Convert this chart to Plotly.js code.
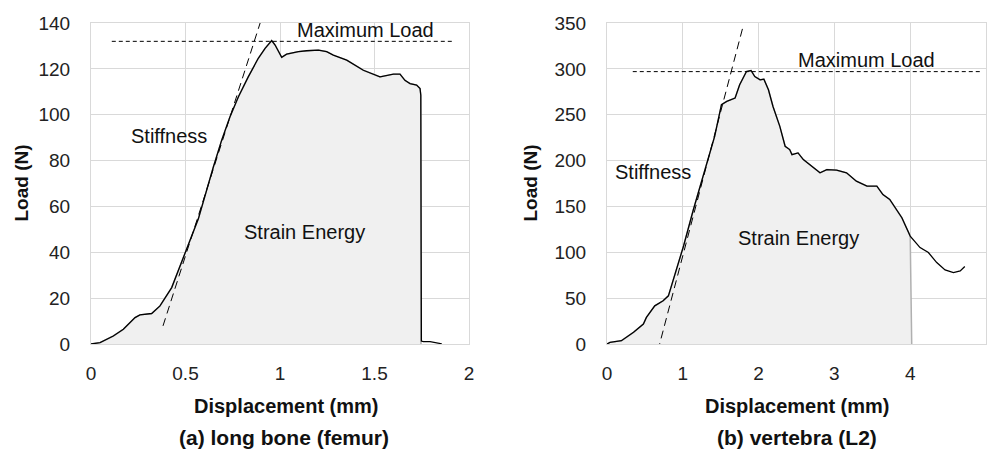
<!DOCTYPE html>
<html>
<head>
<meta charset="utf-8">
<script src="https://cdn.plot.ly/plotly-3.0.1.min.js"></script>
<style>html,body{margin:0;padding:0;background:#fff}#chart{width:991px;height:453px}</style>
</head>
<body>
<div id="chart"></div>
<script>
// (a) long bone (femur)
const femurX = [0, 0.048, 0.118, 0.171, 0.233, 0.259, 0.321, 0.365, 0.427, 0.488, 0.568, 0.647, 0.691, 0.735, 0.780, 0.832, 0.885, 0.921, 0.956, 0.974, 1.009, 1.035, 1.097, 1.141, 1.203, 1.247, 1.282, 1.353, 1.441, 1.529, 1.600, 1.635, 1.661, 1.688, 1.723, 1.741, 1.745, 1.748, 1.759, 1.794, 1.820, 1.856];
const femurY = [0, 0.6, 3.5, 6.4, 11.5, 12.7, 13.3, 16.6, 24.6, 37.8, 54.6, 77.1, 88.8, 99.0, 107.8, 116.5, 124.6, 128.9, 132.3, 130.4, 125.0, 126.4, 127.5, 127.9, 128.2, 127.5, 126.0, 123.8, 119.4, 116.5, 117.7, 117.7, 115.0, 113.6, 112.9, 111.4, 108.5, 1.3, 1.0, 1.0, 0.6, 0.1];
const femurFillEnd = 1.746;
const femurMaxLoad = 132;
const femurMaxLoadX = [0.11, 1.92];
const femurStiffX = [0.381, 0.905];
const femurStiffY = [7.9, 142.6];

// (b) vertebra (L2)
const vertX = [0, 0.04, 0.19, 0.35, 0.48, 0.52, 0.63, 0.74, 0.81, 0.875, 1.01, 1.14, 1.29, 1.42, 1.51, 1.58, 1.69, 1.75, 1.84, 1.90, 1.95, 2.02, 2.07, 2.13, 2.19, 2.28, 2.35, 2.41, 2.44, 2.52, 2.59, 2.70, 2.81, 2.90, 3.03, 3.16, 3.29, 3.43, 3.56, 3.64, 3.73, 3.89, 4.00, 4.13, 4.24, 4.35, 4.46, 4.57, 4.66, 4.72];
const vertY = [0, 1.8, 3.6, 12.7, 21.7, 29.0, 41.6, 47.1, 52.5, 70.7, 106.9, 146.7, 190.2, 226.4, 260.9, 264.5, 268.2, 282.6, 297.1, 298.2, 291.6, 288.0, 288.8, 277.2, 259.0, 237.3, 215.6, 212.0, 206.5, 208.4, 201.1, 193.8, 186.6, 190.2, 189.5, 186.6, 177.5, 172.1, 172.1, 163.0, 157.6, 137.7, 117.7, 105.1, 99.7, 88.8, 80.8, 77.9, 79.7, 84.5];
const vertFillEnd = 4.02;
const vertMaxLoad = 297;
const vertMaxLoadX = [0.34, 4.92];
const vertStiffX = [0.67, 1.79];
const vertStiffY = [-7.6, 344.6];

const xTicksA = [0, 0.5, 1, 1.5, 2];
const xTickTextA = ['0', '0.5', '1', '1.5', '2'];
const yTicksA = [0, 20, 40, 60, 80, 100, 120, 140];
const xTicksB = [0, 1, 2, 3, 4, 5];
const yTicksB = [0, 50, 100, 150, 200, 250, 300, 350];

const FONT = 'Liberation Sans, Arial, sans-serif';

function fillPart(xs, ys, end) {
  const fx = [], fy = [];
  for (let i = 0; i < xs.length; i++) {
    if (xs[i] < end && ys[i] > 5 || i === 0) { fx.push(xs[i]); fy.push(ys[i]); }
    else if (xs[i] < end && i < 5) { fx.push(xs[i]); fy.push(ys[i]); }
  }
  fx.push(end); fy.push(0);
  return {fx, fy};
}
const fa = fillPart(femurX, femurY, femurFillEnd);
const fb = fillPart(vertX, vertY, vertFillEnd);

const traces = [
  {x: fa.fx, y: fa.fy, xaxis: 'x', yaxis: 'y', mode: 'lines', fill: 'tozeroy', fillcolor: '#f0f0f0', line: {color: '#b0b0b0', width: 1.5}, hoverinfo: 'skip'},
  {x: femurX, y: femurY, xaxis: 'x', yaxis: 'y', mode: 'lines', line: {color: '#000', width: 1.3}},
  {x: femurMaxLoadX, y: [femurMaxLoad, femurMaxLoad], xaxis: 'x', yaxis: 'y', mode: 'lines', line: {color: '#000', width: 1, dash: '4px,3px'}},
  {x: femurStiffX, y: femurStiffY, xaxis: 'x', yaxis: 'y', mode: 'lines', line: {color: '#000', width: 1, dash: '8px,5px'}},
  {x: fb.fx, y: fb.fy, xaxis: 'x2', yaxis: 'y2', mode: 'lines', fill: 'tozeroy', fillcolor: '#f0f0f0', line: {color: '#b0b0b0', width: 1.5}, hoverinfo: 'skip'},
  {x: vertX, y: vertY, xaxis: 'x2', yaxis: 'y2', mode: 'lines', line: {color: '#000', width: 1.3}},
  {x: vertMaxLoadX, y: [vertMaxLoad, vertMaxLoad], xaxis: 'x2', yaxis: 'y2', mode: 'lines', line: {color: '#000', width: 1, dash: '4px,3px'}},
  {x: vertStiffX, y: vertStiffY, xaxis: 'x2', yaxis: 'y2', mode: 'lines', line: {color: '#000', width: 1, dash: '8px,5px'}}
];

const axBase = {
  showgrid: true, gridcolor: '#d9d9d9', gridwidth: 1,
  showline: true, linecolor: '#d9d9d9', linewidth: 1, mirror: true,
  zeroline: false, ticks: '', fixedrange: true,
  tickfont: {family: FONT, size: 19, color: '#222'}
};

const layout = {
  width: 991, height: 453,
  margin: {l: 0, r: 0, t: 23, b: 109},
  paper_bgcolor: '#fff', plot_bgcolor: '#fff',
  showlegend: false,
  font: {family: FONT, color: '#222'},
  xaxis: Object.assign({}, axBase, {domain: [91/991, 469/991], range: [0, 2], tickvals: xTicksA, ticktext: xTickTextA, ticklabelstandoff: 12}),
  yaxis: Object.assign({}, axBase, {range: [0, 140], tickvals: yTicksA, ticklabelstandoff: 16}),
  xaxis2: Object.assign({}, axBase, {domain: [607/991, 986/991], range: [0, 5], tickvals: xTicksB, anchor: 'y2', ticklabelstandoff: 12}),
  yaxis2: Object.assign({}, axBase, {range: [0, 350], tickvals: yTicksB, anchor: 'x2', ticklabelstandoff: 16}),
  annotations: [
    {xref: 'x', yref: 'y', x: 1.455, y: 137, text: 'Maximum Load', showarrow: false, font: {family: FONT, size: 20, color: '#111'}},
    {xref: 'x', yref: 'y', x: 0.413, y: 90.6, text: 'Stiffness', showarrow: false, font: {family: FONT, size: 20, color: '#111'}},
    {xref: 'x', yref: 'y', x: 1.127, y: 49, text: 'Strain Energy', showarrow: false, font: {family: FONT, size: 20, color: '#111'}},
    {xref: 'x2', yref: 'y2', x: 3.42, y: 310, text: 'Maximum Load', showarrow: false, font: {family: FONT, size: 20, color: '#111'}},
    {xref: 'x2', yref: 'y2', x: 0.61, y: 187, text: 'Stiffness', showarrow: false, font: {family: FONT, size: 20, color: '#111'}},
    {xref: 'x2', yref: 'y2', x: 2.52, y: 116, text: 'Strain Energy', showarrow: false, font: {family: FONT, size: 20, color: '#111'}},
    {xref: 'paper', yref: 'paper', x: 21/991, y: 0.5, textangle: -90, text: '<b>Load (N)</b>', showarrow: false, xanchor: 'center', yanchor: 'middle', font: {family: FONT, size: 19, color: '#111'}},
    {xref: 'paper', yref: 'paper', x: 530/991, y: 0.5, textangle: -90, text: '<b>Load (N)</b>', showarrow: false, xanchor: 'center', yanchor: 'middle', font: {family: FONT, size: 19, color: '#111'}},
    {xref: 'paper', yref: 'paper', x: 286/991, y: (344-406)/321, text: '<b>Displacement (mm)</b>', showarrow: false, xanchor: 'center', yanchor: 'middle', font: {family: FONT, size: 20, color: '#111'}},
    {xref: 'paper', yref: 'paper', x: 797/991, y: (344-406)/321, text: '<b>Displacement (mm)</b>', showarrow: false, xanchor: 'center', yanchor: 'middle', font: {family: FONT, size: 20, color: '#111'}},
    {xref: 'paper', yref: 'paper', x: 284/991, y: (344-437)/321, text: '<b>(a) long bone (femur)</b>', showarrow: false, xanchor: 'center', yanchor: 'middle', font: {family: FONT, size: 21, color: '#111'}},
    {xref: 'paper', yref: 'paper', x: 797/991, y: (344-437)/321, text: '<b>(b) vertebra (L2)</b>', showarrow: false, xanchor: 'center', yanchor: 'middle', font: {family: FONT, size: 21, color: '#111'}}
  ]
};

Plotly.newPlot('chart', traces, layout, {staticPlot: true, displayModeBar: false});
</script>
</body>
</html>
